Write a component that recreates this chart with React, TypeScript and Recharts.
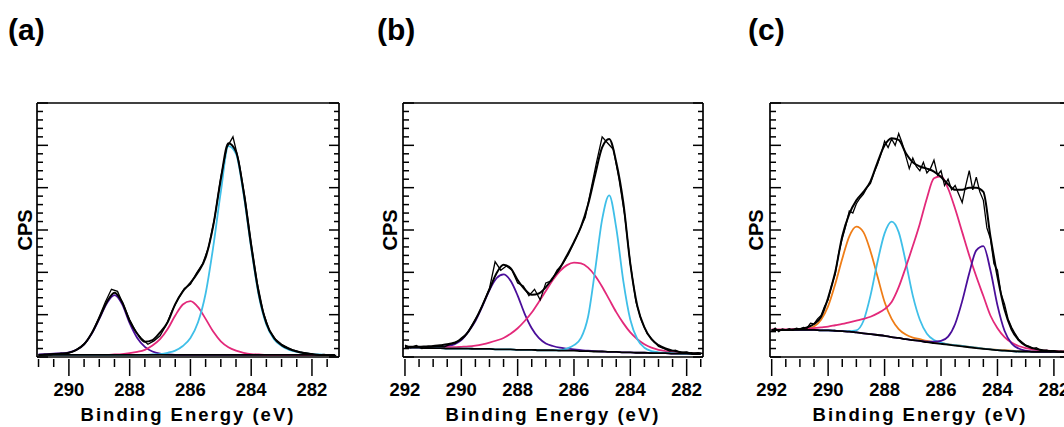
import React from 'react';
import { LineChart, Line, XAxis, YAxis } from 'recharts';

const FONT = '"Liberation Sans", Arial, Helvetica, sans-serif';

const COLORS = {
  purple: '#4a0e9a',
  pink: '#e3297a',
  cyan: '#3fbfe8',
  orange: '#ef7d17',
  black: '#000000',
};

// ---------- panel (a) ----------
const fitGridA = [
  291, 290.75, 290.5, 290.25, 290, 289.75, 289.5, 289.25, 289, 288.75,
  288.5, 288.25, 288, 287.75, 287.5, 287.25, 287, 286.75, 286.5, 286.25,
  286, 285.75, 285.5, 285.25, 285, 284.75, 284.5, 284.25, 284, 283.75,
  283.5, 283.25, 283, 282.75, 282.5, 282.25, 282, 281.75, 281.5, 281.25,
];
const aBase = [
  0.05, 0.05, 0.05, 0.05, 0.05, 0.05, 0.05, 0.05, 0.05, 0.05,
  0.05, 0.05, 0.05, 0.05, 0.05, 0.05, 0.05, 0.05, 0.05, 0.05,
  0.05, 0.05, 0.05, 0.05, 0.05, 0.05, 0.05, 0.05, 0.05, 0.05,
  0.05, 0.05, 0.05, 0.05, 0.05, 0.05, 0.05, 0.05, 0.05, 0.05,
];
const aPurple = [
  0.06, 0.07, 0.08, 0.09, 0.11, 0.17, 0.3, 0.55, 0.9, 1.27,
  1.46, 1.25, 0.8, 0.45, 0.24, 0.13, 0.08, 0.06, 0.05, 0.05,
  0.05, 0.05, 0.05, 0.05, 0.05, 0.05, 0.05, 0.05, 0.05, 0.05,
  0.05, 0.05, 0.05, 0.05, 0.05, 0.05, 0.05, 0.05, 0.05, 0.05,
];
const aPink = [
  0.05, 0.05, 0.05, 0.05, 0.05, 0.05, 0.05, 0.05, 0.05, 0.05,
  0.06, 0.07, 0.09, 0.12, 0.17, 0.27, 0.42, 0.66, 0.98, 1.24,
  1.32, 1.18, 0.9, 0.6, 0.37, 0.23, 0.15, 0.1, 0.07, 0.06,
  0.05, 0.05, 0.05, 0.05, 0.05, 0.05, 0.05, 0.05, 0.05, 0.05,
];
const aCyan = [
  0.05, 0.05, 0.05, 0.05, 0.05, 0.05, 0.05, 0.05, 0.05, 0.05,
  0.05, 0.05, 0.05, 0.05, 0.05, 0.06, 0.07, 0.1, 0.15, 0.26,
  0.45, 0.82, 1.5, 2.6, 3.9, 4.98, 4.8, 3.85, 2.58, 1.45,
  0.76, 0.42, 0.26, 0.17, 0.12, 0.09, 0.07, 0.06, 0.05, 0.05,
];
const aEnvelope = [
  0.05, 0.06, 0.07, 0.08, 0.1, 0.17, 0.3, 0.56, 0.92, 1.3,
  1.52, 1.3, 0.85, 0.55, 0.36, 0.4, 0.58, 0.82, 1.25, 1.55,
  1.75, 2.0, 2.35, 3.1, 4.2, 5.05, 4.85, 3.9, 2.62, 1.5,
  0.8, 0.45, 0.28, 0.19, 0.13, 0.09, 0.07, 0.05, 0.05, 0.04,
];
const rawGridA = [
  291, 290.8, 290.6, 290.4, 290.2, 290, 289.8, 289.6, 289.4, 289.2,
  289, 288.8, 288.6, 288.4, 288.2, 288, 287.8, 287.6, 287.4, 287.2,
  287, 286.8, 286.6, 286.4, 286.2, 286, 285.8, 285.6, 285.4, 285.2,
  285, 284.8, 284.6, 284.4, 284.2, 284, 283.8, 283.6, 283.4, 283.2,
  283, 282.8, 282.6, 282.4, 282.2, 282, 281.8, 281.6, 281.4, 281.2,
];
const aRaw = [
  0.04, 0.06, 0.05, 0.08, 0.07, 0.1, 0.15, 0.25, 0.38, 0.62,
  0.95, 1.3, 1.6, 1.55, 1.22, 0.88, 0.6, 0.43, 0.3, 0.38,
  0.5, 0.75, 1.1, 1.38, 1.62, 1.72, 1.98, 2.2, 2.6, 3.3,
  4.25, 4.95, 5.2, 4.6, 3.75, 2.7, 1.75, 1.05, 0.62, 0.42,
  0.3, 0.22, 0.16, 0.12, 0.1, 0.07, 0.05, 0.06, 0.04, 0.04,
];

// ---------- panels (b) and (c) share the fit grid ----------
const fitGridBC = [
  292, 291.75, 291.5, 291.25, 291, 290.75, 290.5, 290.25, 290, 289.75,
  289.5, 289.25, 289, 288.75, 288.5, 288.25, 288, 287.75, 287.5, 287.25,
  287, 286.75, 286.5, 286.25, 286, 285.75, 285.5, 285.25, 285, 284.75,
  284.5, 284.25, 284, 283.75, 283.5, 283.25, 283, 282.75, 282.5, 282.25,
  282, 281.75, 281.5,
];

// ---------- panel (b) ----------
const bBase = [
  0.22, 0.22, 0.22, 0.21, 0.21, 0.21, 0.2, 0.2, 0.2, 0.2,
  0.19, 0.19, 0.19, 0.18, 0.18, 0.18, 0.17, 0.17, 0.17, 0.16,
  0.16, 0.16, 0.15, 0.15, 0.15, 0.14, 0.14, 0.13, 0.13, 0.12,
  0.12, 0.11, 0.11, 0.1, 0.1, 0.09, 0.09, 0.09, 0.08, 0.08,
  0.08, 0.07, 0.07,
];
const bPurple = [
  0.23, 0.23, 0.23, 0.23, 0.23, 0.24, 0.26, 0.3, 0.4, 0.6,
  0.85, 1.2, 1.58, 1.86, 1.95, 1.8, 1.45, 1.02, 0.68, 0.45,
  0.32, 0.26, 0.22, 0.2, 0.18, 0.16, 0.15, 0.14, 0.13, 0.12,
  0.12, 0.11, 0.11, 0.1, 0.1, 0.09, 0.09, 0.09, 0.08, 0.08,
  0.08, 0.07, 0.07,
];
const bPink = [
  0.22, 0.22, 0.22, 0.22, 0.22, 0.22, 0.23, 0.23, 0.24, 0.25,
  0.27, 0.3, 0.34, 0.39, 0.45, 0.55, 0.68, 0.85, 1.05, 1.3,
  1.56, 1.82, 2.03, 2.17, 2.23, 2.21, 2.11, 1.92, 1.66, 1.36,
  1.06, 0.8, 0.58, 0.42, 0.3, 0.22, 0.17, 0.14, 0.12, 0.1,
  0.09, 0.08, 0.08,
];
const bCyan = [
  0.22, 0.22, 0.22, 0.21, 0.21, 0.21, 0.2, 0.2, 0.2, 0.2,
  0.19, 0.19, 0.19, 0.18, 0.18, 0.18, 0.17, 0.17, 0.17, 0.16,
  0.16, 0.16, 0.16, 0.2, 0.28, 0.45, 0.95, 2.05, 3.25, 3.82,
  3.05, 1.8, 0.88, 0.42, 0.22, 0.14, 0.11, 0.1, 0.09, 0.08,
  0.08, 0.07, 0.07,
];
const bEnvelope = [
  0.24, 0.24, 0.24, 0.25, 0.26, 0.28, 0.3, 0.34, 0.42, 0.6,
  0.88, 1.22, 1.6, 1.98, 2.18, 2.1, 1.82, 1.6, 1.47, 1.5,
  1.65, 1.87, 2.1, 2.4, 2.72, 3.08, 3.6, 4.3, 4.95, 5.15,
  4.6, 3.65, 2.2, 1.2, 0.7, 0.42, 0.28, 0.2, 0.15, 0.12,
  0.1, 0.09, 0.08,
];
const rawGridB = [
  292, 291.8, 291.6, 291.4, 291.2, 291, 290.8, 290.6, 290.4, 290.2,
  290, 289.8, 289.6, 289.4, 289.2, 289, 288.8, 288.6, 288.4, 288.2,
  288, 287.8, 287.6, 287.4, 287.2, 287, 286.8, 286.6, 286.4, 286.2,
  286, 285.8, 285.6, 285.4, 285.2, 285, 284.8, 284.6, 284.4, 284.2,
  284, 283.8, 283.6, 283.4, 283.2, 283, 282.8, 282.6, 282.4, 282.2,
  282, 281.8, 281.6, 281.4,
];
const bRaw = [
  0.28, 0.22, 0.27, 0.2, 0.23, 0.24, 0.26, 0.24, 0.3, 0.33,
  0.45, 0.55, 0.78, 1.0, 1.3, 1.62, 2.25, 2.05, 2.15, 2.05,
  1.75, 1.68, 1.45, 1.6, 1.35, 1.75, 1.8, 2.05, 2.2, 2.42,
  2.7, 3.0, 3.3, 3.95, 4.6, 5.2, 5.05, 4.9, 4.2, 3.35,
  2.2, 1.3, 0.85, 0.55, 0.4, 0.25, 0.2, 0.14, 0.16, 0.1,
  0.12, 0.08, 0.1, 0.08,
];

// ---------- panel (c) ----------
const cBase = [
  0.64, 0.64, 0.64, 0.64, 0.64, 0.64, 0.64, 0.63, 0.63, 0.62,
  0.61, 0.6, 0.58, 0.56, 0.54, 0.52, 0.5, 0.47, 0.45, 0.42,
  0.4, 0.38, 0.35, 0.33, 0.31, 0.29, 0.27, 0.25, 0.23, 0.21,
  0.19, 0.18, 0.16, 0.15, 0.14, 0.13, 0.13, 0.12, 0.12, 0.12,
  0.12, 0.12, 0.12,
];
const cOrange = [
  0.64, 0.64, 0.64, 0.64, 0.65, 0.67, 0.72, 0.88, 1.2, 1.72,
  2.32, 2.85, 3.08, 2.95, 2.5, 1.9, 1.3, 0.9, 0.66, 0.53,
  0.46, 0.42, 0.38, 0.35, 0.33, 0.3, 0.28, 0.26, 0.24, 0.22,
  0.2, 0.18, 0.17, 0.16, 0.15, 0.14, 0.13, 0.13, 0.12, 0.12,
  0.12, 0.12, 0.12,
];
const cCyan = [
  0.64, 0.64, 0.64, 0.64, 0.64, 0.64, 0.64, 0.63, 0.63, 0.62,
  0.61, 0.61, 0.63, 0.85, 1.45, 2.25, 2.92, 3.2, 2.95, 2.25,
  1.45, 0.88, 0.55, 0.4, 0.34, 0.3, 0.28, 0.26, 0.24, 0.22,
  0.2, 0.18, 0.16, 0.15, 0.14, 0.13, 0.13, 0.12, 0.12, 0.12,
  0.12, 0.12, 0.12,
];
const cPink = [
  0.65, 0.65, 0.65, 0.66, 0.66, 0.67, 0.68, 0.7, 0.72, 0.75,
  0.78, 0.82, 0.86, 0.9, 0.95, 1.03, 1.13, 1.3, 1.65, 2.12,
  2.62, 3.15, 3.75, 4.22, 4.27, 3.98, 3.5, 2.95, 2.4, 1.9,
  1.44, 0.98, 0.68, 0.47, 0.34, 0.26, 0.21, 0.18, 0.16, 0.15,
  0.14, 0.13, 0.13,
];
const cPurple = [
  0.64, 0.64, 0.64, 0.64, 0.64, 0.64, 0.64, 0.63, 0.63, 0.62,
  0.61, 0.6, 0.58, 0.56, 0.54, 0.52, 0.5, 0.47, 0.45, 0.42,
  0.4, 0.38, 0.36, 0.36, 0.38, 0.48, 0.78, 1.32, 1.98, 2.52,
  2.62, 2.05, 1.22, 0.62, 0.32, 0.2, 0.15, 0.13, 0.12, 0.12,
  0.12, 0.12, 0.12,
];
const cEnvelope = [
  0.64, 0.64, 0.64, 0.65, 0.66, 0.7, 0.78, 0.95, 1.4, 2.0,
  2.85, 3.38, 3.7, 3.9, 4.15, 4.6, 5.0, 5.17, 5.13, 4.82,
  4.6, 4.5, 4.45, 4.38, 4.25, 4.08, 3.95, 3.95, 4.0, 4.0,
  3.9, 2.85, 1.9, 1.12, 0.65, 0.4, 0.27, 0.21, 0.17, 0.15,
  0.14, 0.13, 0.13,
];
const rawGridC = [
  292, 291.875, 291.75, 291.625, 291.5, 291.375, 291.25, 291.125, 291, 290.875,
  290.75, 290.625, 290.5, 290.375, 290.25, 290.125, 290, 289.875, 289.75, 289.625,
  289.5, 289.375, 289.25, 289.125, 289, 288.875, 288.75, 288.625, 288.5, 288.375,
  288.25, 288.125, 288, 287.875, 287.75, 287.625, 287.5, 287.375, 287.25, 287.125,
  287, 286.875, 286.75, 286.625, 286.5, 286.375, 286.25, 286.125, 286, 285.875,
  285.75, 285.625, 285.5, 285.375, 285.25, 285.125, 285, 284.875, 284.75, 284.625,
  284.5, 284.375, 284.25, 284.125, 284, 283.875, 283.75, 283.625, 283.5, 283.375,
  283.25, 283.125, 283, 282.875, 282.75, 282.625, 282.5, 282.375, 282.25, 282.125,
  282, 281.875, 281.75, 281.625, 281.5,
];
const cRaw = [
  0.62, 0.68, 0.6, 0.66, 0.64, 0.67, 0.63, 0.68, 0.66, 0.7,
  0.68, 0.8, 0.78, 0.9, 0.98, 1.2, 1.35, 1.7, 1.95, 2.45,
  2.8, 3.1, 3.45, 3.4, 3.62, 3.75, 3.85, 4.0, 4.1, 4.35,
  4.55, 4.8, 5.1, 4.95, 5.15, 5.0, 5.28, 5.05, 4.75, 4.45,
  4.7, 4.5, 4.4, 4.6, 4.35, 4.45, 4.65, 4.3, 4.4, 4.05,
  4.2, 3.95, 4.05, 3.85, 3.65, 4.05, 4.4, 3.95, 4.25, 3.9,
  3.7, 3.05, 2.8, 2.2, 2.05, 1.5, 1.25, 0.9, 0.7, 0.55,
  0.42, 0.35, 0.28, 0.25, 0.2, 0.22, 0.17, 0.15, 0.16, 0.12,
  0.14, 0.12, 0.13, 0.11, 0.12,
];

// ---------- axis ticks ----------
const xTicksA = [
  291, 290.5, 290, 289.5, 289, 288.5, 288, 287.5, 287, 286.5,
  286, 285.5, 285, 284.5, 284, 283.5, 283, 282.5, 282, 281.5,
];
const xTicksBC = [
  292, 291.5, 291, 290.5, 290, 289.5, 289, 288.5, 288, 287.5, 287,
  286.5, 286, 285.5, 285, 284.5, 284, 283.5, 283, 282.5, 282, 281.5,
];
const yTicks = [
  0, 0.2, 0.4, 0.6, 0.8, 1, 1.2, 1.4, 1.6, 1.8, 2, 2.2, 2.4, 2.6, 2.8, 3,
  3.2, 3.4, 3.6, 3.8, 4, 4.2, 4.4, 4.6, 4.8, 5, 5.2, 5.4, 5.6, 5.8, 6,
];

type Pt = { x: number; y: number };
const pts = (xs: number[], ys: number[]): Pt[] => xs.map((x, i) => ({ x, y: ys[i] }));

const isMajorY = (v: number) => Math.abs(v - Math.round(v)) < 1e-6;
const isMajorX = (v: number) => Math.abs(v / 2 - Math.round(v / 2)) < 1e-6;

const PLOT_TOP = 103;
const PLOT_BOTTOM = 357;
const H = 427;
const X_AXIS_H = 40;
const Y_AXIS_W = 2;

function LeftTick(props: any) {
  const { x, y, payload } = props;
  const len = isMajorY(payload.value) ? 11 : 6;
  return <line x1={x} y1={y} x2={x + len} y2={y} stroke="#000" strokeWidth={1.5} />;
}

function RightTick(props: any) {
  const { x, y, payload } = props;
  const len = isMajorY(payload.value) ? 10 : 5;
  return <line x1={x} y1={y} x2={x - len} y2={y} stroke="#000" strokeWidth={1.5} />;
}

function BottomTick(props: any) {
  const { x, y, payload } = props;
  const major = isMajorX(payload.value);
  return (
    <g>
      <line x1={x} y1={y + 2} x2={x} y2={y + (major ? 19 : 10)} stroke="#000" strokeWidth={1.5} />
      {major && (
        <text
          x={x}
          y={y + 39}
          textAnchor="middle"
          fontSize={18.5}
          fontWeight="bold"
          fontFamily={FONT}
          fill="#000"
        >
          {payload.value}
        </text>
      )}
    </g>
  );
}

interface Serie {
  name: string;
  data: Pt[];
  color: string;
  width: number;
  type: 'monotone' | 'linear';
}

interface PanelProps {
  left: number;
  width: number;
  plotLeft: number;
  plotRight: number;
  domain: [number, number];
  xTicks: number[];
  series: Serie[];
}

const frame = { stroke: '#000', strokeWidth: 1.7 };

function Panel({ left, width, plotLeft, plotRight, domain, xTicks, series }: PanelProps) {
  return (
    <div style={{ position: 'absolute', left, top: 0 }}>
      <LineChart
        width={width}
        height={H}
        margin={{
          top: PLOT_TOP - Y_AXIS_W,
          right: width - plotRight - Y_AXIS_W,
          bottom: H - PLOT_BOTTOM - X_AXIS_H,
          left: plotLeft - Y_AXIS_W,
        }}
      >
        <XAxis
          xAxisId="b"
          type="number"
          dataKey="x"
          domain={domain}
          reversed
          allowDataOverflow
          ticks={xTicks}
          interval={0}
          tick={(p: any) => <BottomTick {...p} />}
          tickLine={false}
          tickSize={0}
          tickMargin={0}
          height={X_AXIS_H}
          axisLine={frame}
        />
        <XAxis
          xAxisId="t"
          orientation="top"
          type="number"
          dataKey="x"
          domain={domain}
          reversed
          allowDataOverflow
          tick={false}
          tickLine={false}
          height={Y_AXIS_W}
          axisLine={frame}
        />
        <YAxis
          yAxisId="l"
          type="number"
          domain={[0, 6]}
          allowDataOverflow
          ticks={yTicks}
          interval={0}
          tick={(p: any) => <LeftTick {...p} />}
          tickLine={false}
          tickSize={0}
          tickMargin={0}
          width={Y_AXIS_W}
          axisLine={frame}
        />
        <YAxis
          yAxisId="r"
          orientation="right"
          type="number"
          domain={[0, 6]}
          allowDataOverflow
          ticks={yTicks}
          interval={0}
          tick={(p: any) => <RightTick {...p} />}
          tickLine={false}
          tickSize={0}
          tickMargin={0}
          width={Y_AXIS_W}
          axisLine={frame}
        />
        {series.map((s) => (
          <Line
            key={s.name}
            xAxisId="b"
            yAxisId="l"
            data={s.data}
            dataKey="y"
            type={s.type}
            stroke={s.color}
            strokeWidth={s.width}
            dot={false}
            activeDot={false}
            isAnimationActive={false}
          />
        ))}
      </LineChart>
    </div>
  );
}

const seriesA: Serie[] = [
  { name: 'purple', data: pts(fitGridA, aPurple), color: COLORS.purple, width: 1.8, type: 'monotone' },
  { name: 'pink', data: pts(fitGridA, aPink), color: COLORS.pink, width: 1.8, type: 'monotone' },
  { name: 'cyan', data: pts(fitGridA, aCyan), color: COLORS.cyan, width: 1.8, type: 'monotone' },
  { name: 'base', data: pts(fitGridA, aBase), color: COLORS.black, width: 1.8, type: 'monotone' },
  { name: 'raw', data: pts(rawGridA, aRaw), color: COLORS.black, width: 1.3, type: 'linear' },
  { name: 'env', data: pts(fitGridA, aEnvelope), color: COLORS.black, width: 2, type: 'monotone' },
];

const seriesB: Serie[] = [
  { name: 'purple', data: pts(fitGridBC, bPurple), color: COLORS.purple, width: 1.8, type: 'monotone' },
  { name: 'pink', data: pts(fitGridBC, bPink), color: COLORS.pink, width: 1.8, type: 'monotone' },
  { name: 'cyan', data: pts(fitGridBC, bCyan), color: COLORS.cyan, width: 1.8, type: 'monotone' },
  { name: 'base', data: pts(fitGridBC, bBase), color: COLORS.black, width: 1.8, type: 'monotone' },
  { name: 'raw', data: pts(rawGridB, bRaw), color: COLORS.black, width: 1.3, type: 'linear' },
  { name: 'env', data: pts(fitGridBC, bEnvelope), color: COLORS.black, width: 2, type: 'monotone' },
];

const seriesC: Serie[] = [
  { name: 'orange', data: pts(fitGridBC, cOrange), color: COLORS.orange, width: 1.8, type: 'monotone' },
  { name: 'cyan', data: pts(fitGridBC, cCyan), color: COLORS.cyan, width: 1.8, type: 'monotone' },
  { name: 'pink', data: pts(fitGridBC, cPink), color: COLORS.pink, width: 1.8, type: 'monotone' },
  { name: 'purple', data: pts(fitGridBC, cPurple), color: COLORS.purple, width: 1.8, type: 'monotone' },
  { name: 'base', data: pts(fitGridBC, cBase), color: COLORS.black, width: 1.8, type: 'monotone' },
  { name: 'raw', data: pts(rawGridC, cRaw), color: COLORS.black, width: 1.3, type: 'linear' },
  { name: 'env', data: pts(fitGridBC, cEnvelope), color: COLORS.black, width: 2, type: 'monotone' },
];

const panelLabels = [
  { text: '(a)', x: 8 },
  { text: '(b)', x: 377 },
  { text: '(c)', x: 748 },
];
const cpsLabels = [32, 396.5, 763];
const axisTitles = [188, 553, 920];

export default function App() {
  return (
    <div
      style={{
        position: 'absolute',
        left: 0,
        top: 0,
        width: 1064,
        height: 427,
        overflow: 'hidden',
        background: '#fff',
      }}
    >
      <Panel left={0} width={360} plotLeft={37} plotRight={339} domain={[281.11, 291.05]} xTicks={xTicksA} series={seriesA} />
      <Panel left={360} width={360} plotLeft={43} plotRight={343} domain={[281.42, 292.07]} xTicks={xTicksBC} series={seriesB} />
      <Panel left={720} width={360} plotLeft={50} plotRight={350} domain={[281.43, 292.06]} xTicks={xTicksBC} series={seriesC} />
      <svg
        width={1064}
        height={427}
        style={{ position: 'absolute', left: 0, top: 0, pointerEvents: 'none' }}
        fontFamily={FONT}
        fontWeight="bold"
      >
        {panelLabels.map((l) => (
          <text key={l.text} x={l.x} y={40} fontSize={30} fill="#000">
            {l.text}
          </text>
        ))}
        {cpsLabels.map((cx, i) => (
          <text
            key={'cps' + i}
            x={cx}
            y={230}
            fontSize={20}
            textAnchor="middle"
            transform={`rotate(-90 ${cx} 230)`}
            fill="#000"
          >
            CPS
          </text>
        ))}
        {axisTitles.map((cx, i) => (
          <text
            key={'be' + i}
            x={cx}
            y={421}
            fontSize={18.5}
            letterSpacing={2}
            textAnchor="middle"
            fill="#000"
          >
            Binding Energy (eV)
          </text>
        ))}
      </svg>
    </div>
  );
}
